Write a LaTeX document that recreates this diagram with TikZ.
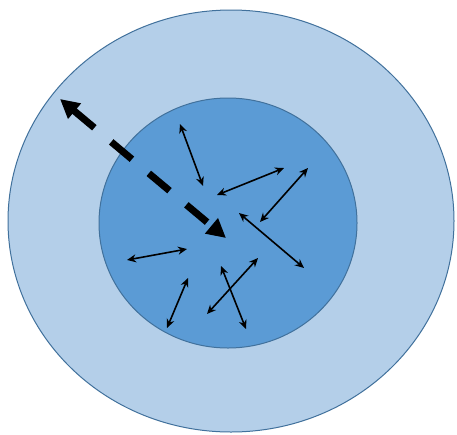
\documentclass[tikz,border=0pt]{standalone}
\usetikzlibrary{arrows.meta,shapes.geometric}
\definecolor{outerfill}{RGB}{180,207,233}
\definecolor{innerfill}{RGB}{91,155,213}
\definecolor{rimcol}{RGB}{65,113,156}
\tikzset{
  blob/.style={ellipse,draw=rimcol,line width=1pt,inner sep=0pt},
  jiggle/.style={{Stealth[length=9pt,width=8pt]}-{Stealth[length=9pt,width=8pt]},line width=1.6pt,black},
  escape/.style={{Triangle[length=19pt,width=19pt]}-{Triangle[length=19pt,width=19pt]},line width=7pt,black,dash pattern=on 27pt off 22pt}
}
\begin{document}
\begin{tikzpicture}[x=1pt,y=-1pt]
\useasboundingbox (0,0) rectangle (457,434);
\fill[white] (0,0) rectangle (457,434);
\node[blob,fill=outerfill,minimum width=446pt,minimum height=422pt] (outer) at (231,221) {};
\node[blob,fill=innerfill,minimum width=258pt,minimum height=250pt] (inner) at (228,223) {};
% thin arrows
\coordinate (a1) at (180,124); \coordinate (b1) at (203,186);
\coordinate (a2) at (217,195); \coordinate (b2) at (284,168);
\coordinate (a3) at (308,168); \coordinate (b3) at (260,222);
\coordinate (a4) at (239,213); \coordinate (b4) at (304,268);
\coordinate (a5) at (127,260); \coordinate (b5) at (187,249);
\coordinate (a6) at (188,278); \coordinate (b6) at (167,328);
\coordinate (a7) at (221,266); \coordinate (b7) at (246,329);
\coordinate (a8) at (258,258); \coordinate (b8) at (207,314);
\foreach \i in {1,...,8} \draw[jiggle] (a\i) -- (b\i);
% dashed escape arrow
\coordinate (eout) at (60,99);
\coordinate (ein) at (226,238);
\draw[escape] (eout) -- (ein);
\end{tikzpicture}
\end{document}
